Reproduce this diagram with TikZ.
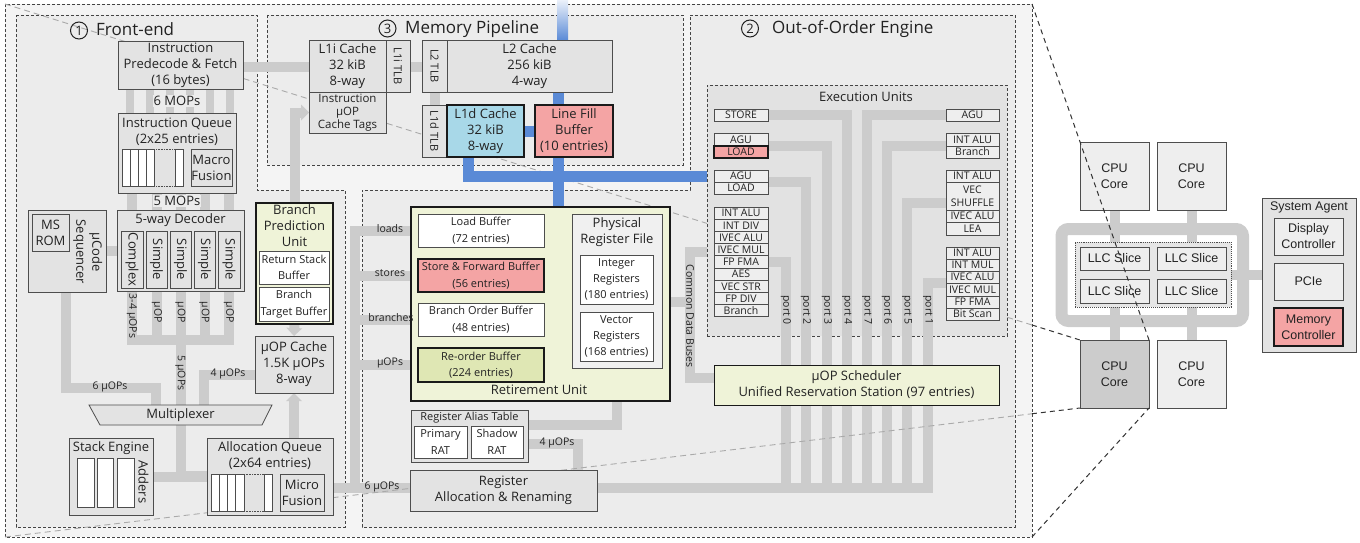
\documentclass[tikz,border=0pt]{standalone}
\usepackage{fontspec}
\setmainfont{Open Sans}
\newfontfamily\arialf{Liberation Sans}
\usepackage{graphicx}
\usetikzlibrary{arrows.meta,calc}
\pgfdeclarelayer{regions}
\pgfdeclarelayer{bars}
\pgfsetlayers{regions,bars,main}

\definecolor{outerc}{HTML}{F4F4F4}
\definecolor{regc}{HTML}{ECECEC}
\definecolor{euc}{HTML}{E2E2E2}
\definecolor{boxc}{HTML}{E3E3E3}
\definecolor{unitc}{HTML}{EEEEEE}
\definecolor{linec}{HTML}{4D4D4D}
\definecolor{darkc}{HTML}{1A1A1A}
\definecolor{txtc}{HTML}{222222}
\definecolor{dashc}{HTML}{444444}
\definecolor{barc}{HTML}{CCCCCC}
\definecolor{blueb}{HTML}{5A8AD6}
\definecolor{l1dc}{HTML}{A8D8E8}
\definecolor{redc}{HTML}{F4A4A4}
\definecolor{grc}{HTML}{EFF3D8}
\definecolor{robc}{HTML}{DFE7B4}
\definecolor{prfc}{HTML}{F0F0F0}
\definecolor{corec}{HTML}{EEEEEE}
\definecolor{coredk}{HTML}{CCCCCC}
\definecolor{llcc}{HTML}{E6E6E6}
\definecolor{plc}{HTML}{AAAAAA}
\definecolor{zlc}{HTML}{333333}

\newcommand\fsMain{\fontsize{13}{16}\selectfont}
\newcommand\fsSmall{\fontsize{11}{16.5}\selectfont}
\newcommand\fsUnit{\fontsize{10.5}{12.5}\selectfont}
\newcommand\fsTitle{\fontsize{17}{20}\selectfont}
\newcommand\fsCirc{\fontsize{13}{14}\selectfont}
\newcommand\Bx[7]{\node[#6, minimum width={(#4)-(#2)}, minimum height={(#5)-(#3)}] (#1) at ({((#2)+(#4))/2},{((#3)+(#5))/2}) {#7};}

\tikzset{
  sBox/.style={draw=linec, fill=boxc, line width=0.8pt, inner sep=0pt, outer sep=0pt, align=center, font=\fsMain, text=txtc},
  sW/.style={sBox, fill=white, font=\fsSmall},
  sThick/.style={draw=darkc, line width=1.5pt},
  sUnit/.style={sBox, fill=unitc, font=\fsUnit, line width=0.7pt},
  sCell/.style={draw=linec, fill=white, line width=0.6pt, inner sep=0pt, outer sep=0pt},
  sBar/.style={draw=barc, line width=10pt},
  sBBar/.style={draw=blueb, line width=11pt},
  sArr/.style={sBar, -{Triangle[width=16pt,length=8pt,line width=0pt]}},
  sDash/.style={draw=dashc, dash pattern=on 3pt off 2pt, line width=0.8pt},
  sLab/.style={font=\fsUnit, text=txtc, inner sep=0pt, align=center},
  sPline/.style={draw=plc, dash pattern=on 6pt off 4pt, line width=0.9pt},
  sZline/.style={draw=zlc, dash pattern=on 5pt off 4pt, line width=1pt},
  sCore/.style={draw=linec, fill=corec, line width=0.9pt, inner sep=0pt, outer sep=0pt, align=center, font=\arialf\fontsize{12.5}{16}\selectfont, text=txtc},
}

\begin{document}
\begin{tikzpicture}[x=1pt,y=-1pt]
\useasboundingbox (0,0) rectangle (1360,543);

\coordinate (oTL) at (5,4);
\coordinate (oBL) at (5,537);
\coordinate (oTR) at (1032,4);
\coordinate (oBR) at (1032,537);
\coordinate (zTL) at (1080,340);
\coordinate (zBL) at (1080,408);

% ---------- regions
\begin{pgfonlayer}{regions}
\draw[sDash, fill=outerc] (oTL) rectangle (oBR);
\draw[sDash, fill=regc] (16,15) -- (257,15) -- (257,190) -- (345,190) -- (345,527) -- (16,527) -- cycle;
\draw[sDash, fill=regc] (267,15) rectangle (683,165);
\draw[sDash, fill=regc] (690,15) -- (1015,15) -- (1015,527) -- (362,527) -- (362,190) -- (690,190) -- cycle;
\draw[sPline] (oTL) -- ($(oTL)!0.9553!(zTL)$);
\Bx{eu}{707}{85}{1007}{336}{sDash, fill=euc, inner sep=0pt, outer sep=0pt}{}
\end{pgfonlayer}

% titles
\node[circle, draw=txtc, line width=1pt, minimum size=17pt, inner sep=0pt, font=\fsCirc, text=txtc] (c1) at (79,30.5) {1};
\node[anchor=base west, font=\fsTitle, inner sep=0pt, text=txtc] (t1) at (96,36) {Front-end};
\node[circle, draw=txtc, line width=1pt, minimum size=17pt, inner sep=0pt, font=\fsCirc, text=txtc] (c3) at (387.5,28.5) {3};
\node[anchor=base west, font=\fsTitle, inner sep=0pt, text=txtc] (t3) at (405,34) {Memory Pipeline};
\node[circle, draw=txtc, line width=1pt, minimum size=17pt, inner sep=0pt, font=\fsCirc, text=txtc] (c2) at (750,28.5) {2};
\node[anchor=base west, font=\fsTitle, inner sep=0pt, text=txtc] (t2) at (772,34) {Out-of-Order Engine};
\node[sLab, font=\fontsize{13}{16}\selectfont] (eut) at (866,97) {Execution Units};

% ---------- Front-end boxes
\Bx{ipf}{118}{41}{243}{89}{sBox}{Instruction\\Predecode \& Fetch\\(16 bytes)}
\Bx{iq}{118}{113}{236}{193}{sBox}{}
\node[sLab, font=\fsMain] (iqt) at (177,131.5) {Instruction Queue\\(2x25 entries)};
\Bx{iqc1}{122}{149}{130}{186}{sCell}{}
\Bx{iqc2}{130}{149}{138.3}{186}{sCell}{}
\Bx{iqc3}{138.3}{149}{146.7}{186}{sCell}{}
\Bx{iqc4}{146.7}{149}{154.3}{186}{sCell}{}
\Bx{iqc5}{175}{149}{183}{186}{sCell}{}
\draw[linec, densely dotted, line width=0.6pt] (iqc4.north east) -- (iqc5.north west) (iqc4.south east) -- (iqc5.south west);
\Bx{mf}{191}{149}{232}{186}{sBox}{Macro\\Fusion}
\Bx{dec}{117}{210}{244}{291}{sBox}{}
\node[sLab, font=\fsMain] (dect) at (180.5,220.5) {5-way Decoder};
\Bx{d1}{121}{231}{143}{288}{sBox}{\rotatebox{-90}{Complex}}
\Bx{d2}{146}{231}{167}{288}{sBox}{\rotatebox{-90}{Simple}}
\Bx{d3}{170}{231}{191}{288}{sBox}{\rotatebox{-90}{Simple}}
\Bx{d4}{194}{231}{215}{288}{sBox}{\rotatebox{-90}{Simple}}
\Bx{d5}{218}{231}{240}{288}{sBox}{\rotatebox{-90}{Simple}}
\Bx{ucs}{28}{210}{106}{292}{sBox}{}
\Bx{msrom}{32}{214}{69}{251}{sBox}{MS\\ROM}
\node[sLab, font=\fsMain] (ucst) at (87.5,252) {\rotatebox{-90}{\begin{tabular}{@{}c@{}}μCode\\Sequencer\end{tabular}}};
\Bx{bpu}{256}{203}{333}{324}{sBox, fill=grc, draw=darkc, line width=1.2pt}{}
\node[sLab, font=\fsMain] (bput) at (294.5,226) {Branch\\Prediction\\Unit};
\Bx{rsb}{259}{251}{329}{284}{sW}{Return Stack\\Buffer}
\Bx{btb}{259}{287}{329}{321}{sW}{Branch\\Target Buffer}
\Bx{uc}{255}{336}{333}{393}{sBox}{μOP Cache\\1.5K μOPs\\8-way}
\draw[draw=linec, fill=boxc, line width=0.8pt] (89,405) -- (272,405) -- (262,425) -- (100,425) -- cycle;
\node[sLab, font=\fsMain] (mux) at (180.5,415) {Multiplexer};
\Bx{se}{69}{438}{153}{515}{sBox}{}
\node[sLab, font=\fsMain] (set) at (111,448) {Stack Engine};
\Bx{sec1}{77.3}{458.3}{94}{507.3}{sCell}{}
\Bx{sec2}{97.7}{458.3}{113.3}{507.3}{sCell}{}
\Bx{sec3}{117.7}{458.3}{134.3}{507.3}{sCell}{}
\node[sLab, font=\fsMain, rotate=-90] (adders) at (143.5,482) {Adders};
\Bx{aq}{207}{438}{333}{515}{sBox}{}
\node[sLab, font=\fsMain] (aqt) at (270,455.5) {Allocation Queue\\(2x64 entries)};
\Bx{aqc1}{211}{474}{219.3}{511}{sCell}{}
\Bx{aqc2}{219.3}{474}{227.7}{511}{sCell}{}
\Bx{aqc3}{227.7}{474}{235.7}{511}{sCell}{}
\Bx{aqc4}{235.7}{474}{244}{511}{sCell}{}
\Bx{aqc5}{264}{474}{272.3}{511}{sCell}{}
\draw[linec, densely dotted, line width=0.6pt] (aqc4.north east) -- (aqc5.north west) (aqc4.south east) -- (aqc5.south west);
\Bx{mfu}{280}{474}{324}{511}{sBox}{Micro\\Fusion}

% ---------- Memory pipeline boxes
\Bx{l1i}{309}{40}{386}{92}{sBox}{L1i Cache\\32 kiB\\8-way}
\Bx{l1itlb}{386}{40}{410}{92}{sBox, font=\fontsize{11}{13}\selectfont}{\rotatebox{-90}{L1i TLB}}
\Bx{iuct}{309}{92}{386}{133}{sBox, font=\fontsize{11.5}{13}\selectfont}{Instruction\\μOP\\Cache Tags}
\Bx{l2tlb}{422}{40}{447}{92}{sBox, font=\fontsize{11}{13}\selectfont}{\rotatebox{-90}{L2 TLB}}
\Bx{l2}{447}{40}{612}{92}{sBox}{L2 Cache\\256 kiB\\4-way}
\Bx{l1dtlb}{422}{105}{447}{157}{sBox, font=\fontsize{11}{13}\selectfont}{\rotatebox{-90}{L1d TLB}}
\Bx{l1d}{447}{105}{524}{157}{sBox, fill=l1dc, sThick}{L1d Cache\\32 kiB\\8-way}
\Bx{lfb}{535}{105}{613}{157}{sBox, fill=redc, sThick}{Line Fill\\Buffer\\(10 entries)}

% ---------- Retirement unit etc.
\Bx{ru}{411}{207}{670}{401}{sBox, fill=grc, draw=darkc, line width=1.2pt}{}
\node[sLab, font=\fsMain] (rut) at (539,390) {Retirement Unit};
\Bx{lb}{418}{214}{544}{247}{sW}{Load Buffer\\(72 entries)}
\Bx{sfb}{418}{259}{544}{292}{sW, fill=redc, sThick}{Store \& Forward Buffer\\(56 entries)}
\Bx{bob}{418}{303}{544}{336}{sW}{Branch Order Buffer\\(48 entries)}
\Bx{rob}{418}{348}{544}{382}{sW, fill=robc, sThick}{Re-order Buffer\\(224 entries)}
\Bx{prf}{572}{214}{662}{368}{sBox, fill=prfc}{}
\node[sLab, font=\fsMain] (prft) at (617,232.5) {Physical\\Register File};
\Bx{ireg}{580}{255}{653}{304}{sW, font=\fontsize{11}{16}\selectfont}{Integer\\Registers\\(180 entries)}
\Bx{vreg}{580}{312}{653}{361}{sW, font=\fontsize{11}{16}\selectfont}{Vector\\Registers\\(168 entries)}
\Bx{rat}{411}{410}{528}{462}{sBox}{}
\node[sLab, font=\fontsize{11}{13}\selectfont] (ratt) at (469.5,417.5) {Register Alias Table};
\Bx{prat}{414}{426}{467}{458}{sW}{Primary\\RAT}
\Bx{srat}{471}{426}{523}{458}{sW}{Shadow\\RAT}
\Bx{rar}{410}{470}{597}{511}{sBox}{Register\\Allocation \& Renaming}

% ---------- execution units
\Bx{store}{714}{109}{768}{121}{sUnit}{STORE}
\Bx{agu1}{714}{133}{768}{146}{sUnit}{AGU}
\Bx{load1}{714}{146}{768}{158}{sUnit, fill=redc, sThick}{LOAD}
\Bx{agu2}{714}{170}{768}{182}{sUnit}{AGU}
\Bx{load2}{714}{182}{768}{194}{sUnit}{LOAD}
\Bx{lu1}{714}{207}{768}{219.2}{sUnit}{INT ALU}
\Bx{lu2}{714}{219.2}{768}{231.4}{sUnit}{INT DIV}
\Bx{lu3}{714}{231.4}{768}{243.6}{sUnit}{IVEC ALU}
\Bx{lu4}{714}{243.6}{768}{255.8}{sUnit}{IVEC MUL}
\Bx{fpfma}{714}{255.8}{768}{268}{sUnit}{FP FMA}
\Bx{lu6}{714}{268}{768}{280.2}{sUnit}{AES}
\Bx{lu7}{714}{280.2}{768}{292.4}{sUnit}{VEC STR}
\Bx{lu8}{714}{292.4}{768}{304.6}{sUnit}{FP DIV}
\Bx{lu9}{714}{304.6}{768}{316.8}{sUnit}{Branch}
\Bx{ragu}{946}{109}{999}{121}{sUnit}{AGU}
\Bx{rint1}{946}{133}{999}{146}{sUnit}{INT ALU}
\Bx{rbr}{946}{146}{999}{158}{sUnit}{Branch}
\Bx{rint2}{946}{170}{999}{182}{sUnit}{INT ALU}
\Bx{rvecsh}{946}{182}{999}{210}{sUnit}{VEC\\SHUFFLE}
\Bx{rivalu1}{946}{210}{999}{222}{sUnit}{IVEC ALU}
\Bx{rlea}{946}{222}{999}{235}{sUnit}{LEA}
\Bx{rint3}{946}{247}{999}{259}{sUnit}{INT ALU}
\Bx{rintmul}{946}{259}{999}{271}{sUnit}{INT MUL}
\Bx{rivalu2}{946}{271}{999}{283}{sUnit}{IVEC ALU}
\Bx{rivmul}{946}{283}{999}{296}{sUnit}{IVEC MUL}
\Bx{rfpfma}{946}{296}{999}{308}{sUnit}{FP FMA}
\Bx{rbits}{946}{308}{999}{320}{sUnit}{Bit Scan}
\Bx{sched}{714}{365}{999}{405}{sBox, fill=grc, draw=darkc, line width=1pt}{μOP Scheduler\\Unified Reservation Station (97 entries)}

% ---------- connectors (below the boxes)
\begin{pgfonlayer}{bars}
\draw[sBar] (ipf.east |- 0,67) -- (l2tlb.west |- 0,67);
\draw[sBar] (l2tlb.south) -- (l1dtlb.north);
\foreach \x in {130,150,170,190,210,230} \draw[sBar, line width=8pt] (ipf.south -| \x,0) -- (iq.north -| \x,0);
\foreach \n in {d1,d2,d3,d4,d5} \draw[sBar] (\n.south |- iq.south) -- (\n.north |- dec.north);
\draw[sBar] (ucs.east) -- (ucs.east -| dec.west);
\foreach \n in {d1,d2,d3,d4,d5} \draw[sBar] (\n.south |- dec.south) -- (\n.south |- 0,340);
\draw[sBar, line cap=rect] (d1.south |- 0,340) -- (d5.south |- 0,340);
\draw[sBar] (d3.south |- 0,340) -- (d3.south |- 0,405);
\draw[sBar] (ucs.south -| 66,0) |- (156,388) -- (156,405);
\draw[sBar] (uc.west |- 0,375) -| (204,405);
\draw[sBar] (180.5,425) |- (aq.west |- 0,476);
\draw[sBar] (se.east) -- (aq.west);
\draw[sArr] (uc.south |- aq.north) -- (uc.south);
\draw[sArr] (bpu.south) -- (uc.north);
\draw[sArr] (bpu.north) |- (iuct.west);
\draw[sBar] (aq.east |- 0,488) -- (rar.west |- 0,488);
\draw[sBar] (lb.west) -| (355,493);
\draw[sBar] (sfb.west) -- (sfb.west -| 355,0);
\draw[sBar] (bob.west) -- (bob.west -| 355,0);
\draw[sBar] (rob.west) -- (rob.west -| 355,0);
\draw[sArr] (rat.east |- 0,425) -| (prf.south);
\draw[sBar] (rat.east |- 0,444) -| (rar.north -| 578,0);
\draw[sBar] (prf.east |- 0,302) -- (690,302);
\draw[sBar] (eu.west |- 0,252) -| (690,300) |- (sched.west |- 0,378);
% ports
\draw[sBar] (store.east) -| (847,493);
\draw[sBar] (agu1.south east) -| (827,493);
\draw[sBar] (agu2.south east) -| (806,493);
\draw[sBar] (fpfma.east) -| (786,493);
\draw[sBar] (ragu.west) -| (867,493);
\draw[sBar] (rint1.south west) -| (887,493);
\draw[sBar] (rvecsh.west |- 0,203) -| (907,493);
\draw[sBar] (rivalu2.south west) -| (928,493);
\draw[sBar] (rar.east |- 0,488) -- (933,488);
\draw[sPline] (oBL) -- ($(oBL)!0.9553!(zBL)$);
% blue connectors
\shade[top color=blueb!12, bottom color=blueb] (557,0) rectangle (l2.north -| 568,0);
\draw[sBBar] (l2.south -| 558,0) -- (lfb.north -| 558,0);
\draw[sBBar] (l1d.east) -- (lfb.west);
\draw[sBBar] (l1d.south -| 468,0) |- (eu.west |- 0,176);
\draw[sBBar] (lfb.south -| 558,0) |- (sfb.east);
\draw[sBBar] (lb.east) -- (lb.east -| 558,0);
\end{pgfonlayer}

% ---------- labels on connectors
\node[sLab, font=\fsMain, fill=regc, inner sep=1pt] (l6m) at (177,101) {6 MOPs};
\node[sLab, font=\fsMain, fill=regc, inner sep=1pt] (l5m) at (177,201) {5 MOPs};
\node[sLab, rotate=-90] (l34) at (132,316) {3-4 μOPs};
\foreach \x/\n in {157/a,180.5/b,204.5/c,229/d} \node[sLab, rotate=-90] (lu\n) at (\x,312) {μOP};
\node[sLab, rotate=-90] (l5u) at (180.5,373) {5 μOPs};
\node[sLab] (l6u) at (110,387) {6 μOPs};
\node[sLab] (l4u) at (228,374) {4 μOPs};
\node[sLab] (lloads) at (390,229) {loads};
\node[sLab] (lstores) at (390,273) {stores};
\node[sLab] (lbr) at (391,318) {branches};
\node[sLab] (luops) at (390,363) {μOPs};
\node[sLab] (l6u2) at (382,487) {6 μOPs};
\node[sLab] (l4u2) at (557,443) {4 μOPs};
\node[sLab, rotate=-90] (lcdb) at (690,316) {Common Data Buses};
\foreach \x/\p in {786/0,806/2,827/3,847/4,867/7,887/6,907/5,928/1} \node[sLab, rotate=-90] (port\p) at (\x,310) {port \p};

% ---------- right panel
\Bx{core1}{1080}{142}{1149}{210}{sCore}{CPU\\Core}
\Bx{core2}{1157}{142}{1226}{210}{sCore}{CPU\\Core}
\Bx{core3}{1080}{340}{1149}{408}{sCore, fill=coredk}{CPU\\Core}
\Bx{core4}{1157}{340}{1226}{408}{sCore}{CPU\\Core}
\Bx{sa}{1262}{198}{1356}{352}{sCore, fill=boxc}{}
\Bx{llcb}{1075}{242}{1231}{307}{sCore, fill=llcc, densely dotted, line width=0.8pt}{}
\Bx{llc1}{1080}{247}{1149}{270}{sCore}{LLC Slice}
\Bx{llc2}{1157}{247}{1226}{270}{sCore}{LLC Slice}
\Bx{llc3}{1080}{279}{1149}{303}{sCore}{LLC Slice}
\Bx{llc4}{1157}{279}{1226}{303}{sCore}{LLC Slice}
\node[sCore, draw=none, fill=none] (sat) at (1309,207.5) {System Agent};
\Bx{disp}{1274}{218}{1343}{255}{sCore}{Display\\Controller}
\Bx{pcie}{1274}{263}{1343}{300}{sCore}{PCIe}
\Bx{memc}{1274}{308}{1343}{346}{sCore, fill=redc, draw=darkc, line width=1.5pt}{Memory\\Controller}
\begin{pgfonlayer}{bars}
\draw[draw=barc, line width=12pt, rounded corners=7pt] (1061.5,229) rectangle (1243,321);
\draw[sBar] (core1.south) -- (core1.south |- llcb.north);
\draw[sBar] (core2.south) -- (core2.south |- llcb.north);
\draw[sBar] (core3.north) -- (core3.north |- llcb.south);
\draw[sBar] (core4.north) -- (core4.north |- llcb.south);
\draw[sBar] (sa.west -| llcb.east) -- (sa.west);
\end{pgfonlayer}

% zoom lines
\draw[sZline] (oTR) -- (core3.north east);
\draw[sZline] (oBR) -- (core3.south east);
\draw[sZline] ($(oTL)!0.9553!(core3.north west)$) -- (core3.north west);
\draw[sZline] ($(oBL)!0.9553!(core3.south west)$) -- (core3.south west);
\end{tikzpicture}
\end{document}
